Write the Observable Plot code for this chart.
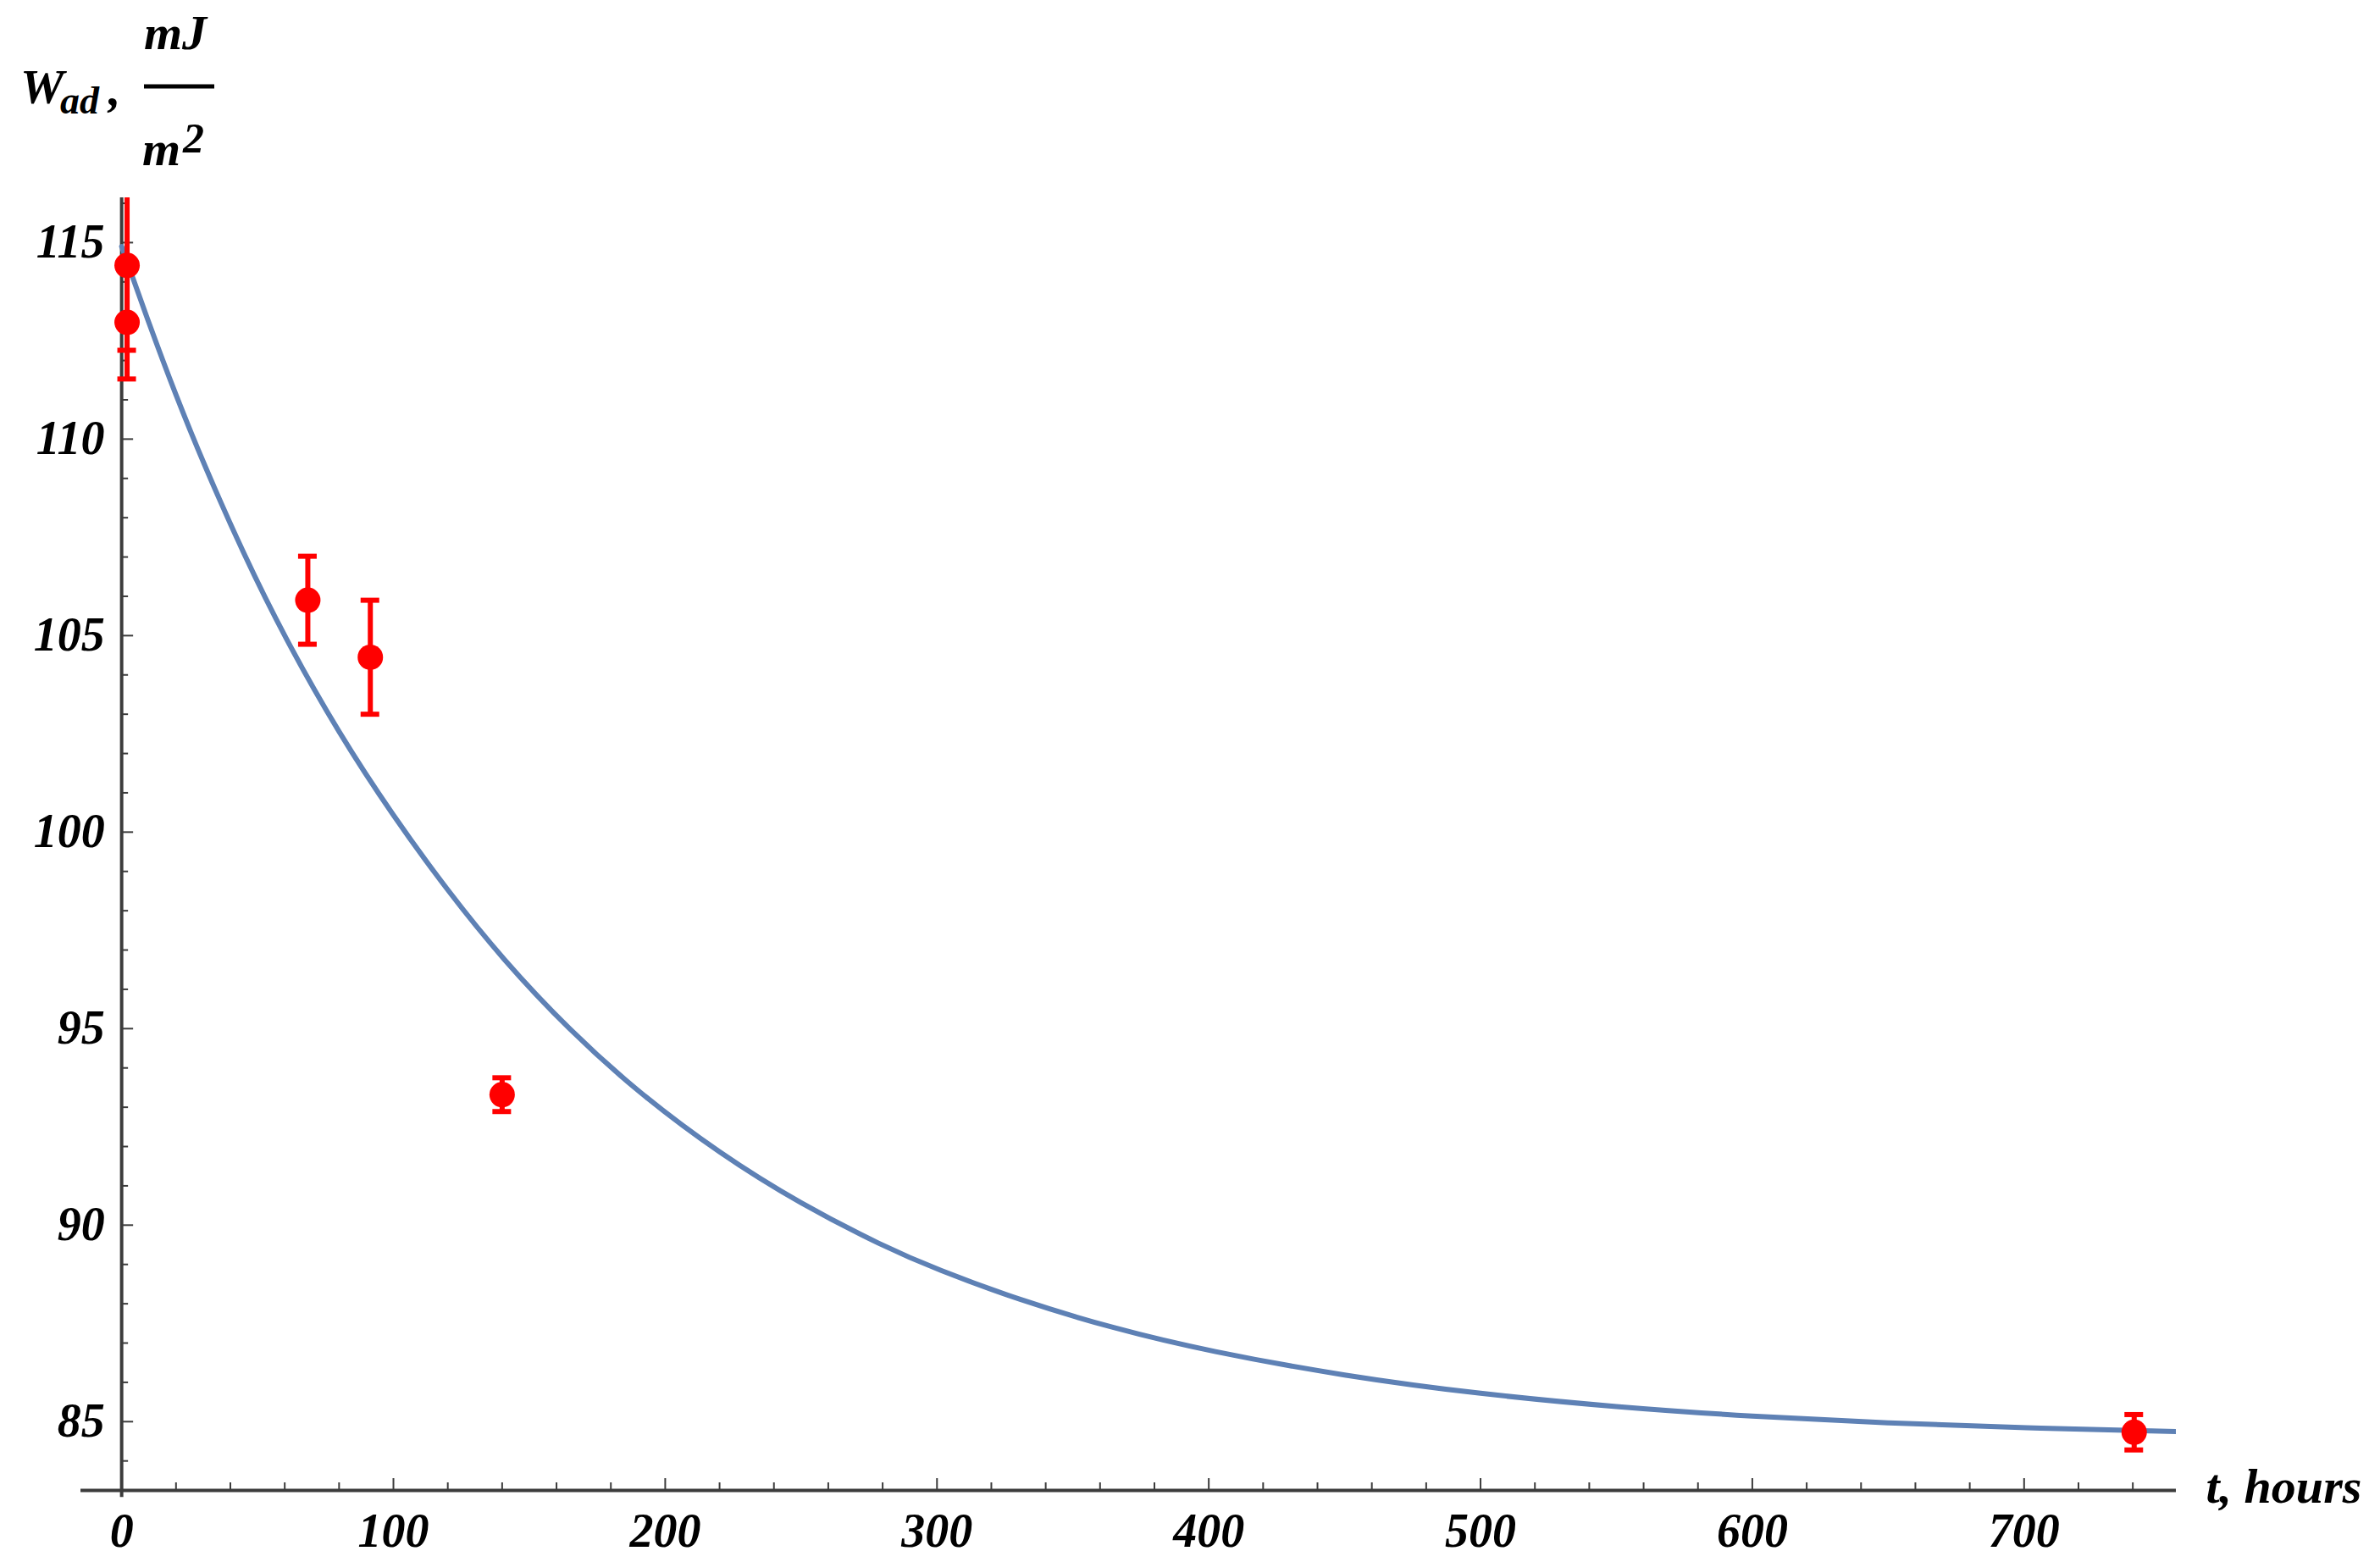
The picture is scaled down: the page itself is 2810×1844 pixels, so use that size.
<!DOCTYPE html>
<html>
<head>
<meta charset="utf-8">
<script src="https://cdn.jsdelivr.net/npm/d3@7"></script>
<script src="https://cdn.jsdelivr.net/npm/@observablehq/plot@0.6"></script>
<style>
  html, body { margin: 0; padding: 0; background: #fff; }
  svg { display: block; }
</style>
</head>
<body>
<div id="chart"></div>
<script>
// Measured points (t in hours, W_ad in mJ/m^2) with symmetric errors
const pointT   = [2, 2, 68.5, 91.5, 140, 740.5];
const pointW   = [114.42, 112.97, 105.9, 104.45, 93.32, 84.73];
const pointErr = [2.16, 1.44, 1.12, 1.45, 0.43, 0.45];

// Fitted curve
const curveT = [0, 10, 20, 30, 45, 60, 80, 100, 120, 140, 165, 190, 220, 250, 280, 300, 330, 365, 400, 450, 500, 550, 600, 650, 700, 756];
const curveW = [114.9, 112.95, 111.1, 109.4, 107.05, 104.95, 102.5, 100.4, 98.5, 96.78, 94.94, 93.38, 91.82, 90.53, 89.47, 88.87, 88.1, 87.37, 86.79, 86.16, 85.7, 85.37, 85.13, 84.96, 84.84, 84.75];

// Axis ticks
const xTickLabels = [0, 100, 200, 300, 400, 500, 600, 700];
const xMinorTicks = [20, 40, 60, 80, 120, 140, 160, 180, 220, 240, 260, 280, 320, 340, 360, 380, 420, 440, 460, 480, 520, 540, 560, 580, 620, 640, 660, 680, 720, 740];
const yTickLabels = [85, 90, 95, 100, 105, 110, 115];
const yMinorTicks = [84, 86, 87, 88, 89, 91, 92, 93, 94, 96, 97, 98, 99, 101, 102, 103, 104, 106, 107, 108, 109, 111, 112, 113, 114, 116];

const xDomain = [-15, 756];
const yDomain = [83.25, 116.14];

const points = pointT.map((t, i) => ({t, w: pointW[i], lo: pointW[i] - pointErr[i], hi: pointW[i] + pointErr[i]}));
const curve = curveT.map((t, i) => ({t, w: curveW[i]}));

const font = {fontFamily: "Liberation Serif", fontStyle: "italic", fontWeight: "bold", fill: "black"};
const axisColor = "#3c3c3c";
const yMajorLen = 14 / 3.2075, yMinorLen = 8 / 3.2075;   // in t units
const xMajorLen = 14 / 46.4, xMinorLen = 9 / 46.4;       // in W units
const capHalf = 11 / 3.2075;

const chart = Plot.plot({
  width: 2810,
  height: 1844,
  marginLeft: 95,
  marginRight: 241,
  marginTop: 233,
  marginBottom: 85,
  x: {domain: xDomain, axis: null},
  y: {domain: yDomain, axis: null},
  style: {background: "white"},
  marks: [
    // axes lines
    Plot.ruleY([yDomain[0]], {x1: xDomain[0], x2: xDomain[1], stroke: axisColor, strokeWidth: 4}),
    Plot.ruleX([0], {y1: yDomain[0] - 0.18, y2: yDomain[1], stroke: axisColor, strokeWidth: 4}),
    // x ticks
    Plot.ruleX(xTickLabels, {x: d => d, y1: yDomain[0], y2: yDomain[0] + xMajorLen, stroke: axisColor, strokeWidth: 2}),
    Plot.ruleX(xMinorTicks, {x: d => d, y1: yDomain[0], y2: yDomain[0] + xMinorLen, stroke: axisColor, strokeWidth: 2}),
    // y ticks
    Plot.ruleY(yTickLabels, {y: d => d, x1: 0, x2: yMajorLen, stroke: axisColor, strokeWidth: 2}),
    Plot.ruleY(yMinorTicks, {y: d => d, x1: 0, x2: yMinorLen, stroke: axisColor, strokeWidth: 2}),
    // tick labels
    Plot.text(xTickLabels, {x: d => d, y: yDomain[0], text: d => String(d), dy: 27, lineAnchor: "top", textAnchor: "middle", fontSize: 56, ...font}),
    Plot.text(yTickLabels, {x: 0, y: d => d, text: d => String(d), dx: -20, textAnchor: "end", lineAnchor: "middle", fontSize: 56, ...font}),
    // x axis label
    Plot.text(["t, hours"], {x: xDomain[1], y: yDomain[0], text: d => d, dx: 35, dy: -4, textAnchor: "start", lineAnchor: "middle", fontSize: 58, ...font}),
    // fitted curve
    Plot.line(curve, {x: "t", y: "w", curve: "basis", stroke: "#5e81b5", strokeWidth: 6, clip: true}),
    // error bars
    Plot.ruleX(points, {x: "t", y1: "lo", y2: "hi", stroke: "#ff0000", strokeWidth: 6, clip: true}),
    Plot.ruleY(points, {y: "lo", x1: d => d.t - capHalf, x2: d => d.t + capHalf, stroke: "#ff0000", strokeWidth: 6, clip: true}),
    Plot.ruleY(points, {y: "hi", x1: d => d.t - capHalf, x2: d => d.t + capHalf, stroke: "#ff0000", strokeWidth: 6, clip: true}),
    Plot.dot(points, {x: "t", y: "w", r: 15, fill: "#ff0000", stroke: "none"})
  ]
});

document.getElementById("chart").appendChild(chart);

// y-axis label: W_ad, mJ / m^2
const svg = d3.select(chart);
const g = svg.append("g")
  .attr("font-family", "Liberation Serif")
  .attr("font-style", "italic")
  .attr("font-weight", "bold")
  .attr("text-anchor", "start")
  .attr("fill", "black");
g.append("text").attr("x", 24).attr("y", 122).attr("font-size", 58).text("W");
g.append("text").attr("x", 71).attr("y", 134).attr("font-size", 46).text("ad");
g.append("text").attr("x", 128).attr("y", 124).attr("font-size", 58).text(",");
g.append("text").attr("x", 207).attr("y", 58).attr("text-anchor", "middle").attr("font-size", 58).text("mJ");
g.append("line").attr("x1", 170).attr("x2", 253).attr("y1", 102).attr("y2", 102)
  .attr("stroke", "black").attr("stroke-width", 5);
g.append("text").attr("x", 168).attr("y", 195).attr("font-size", 58).text("m");
g.append("text").attr("x", 216).attr("y", 180).attr("font-size", 50).text("2");
</script>
</body>
</html>
